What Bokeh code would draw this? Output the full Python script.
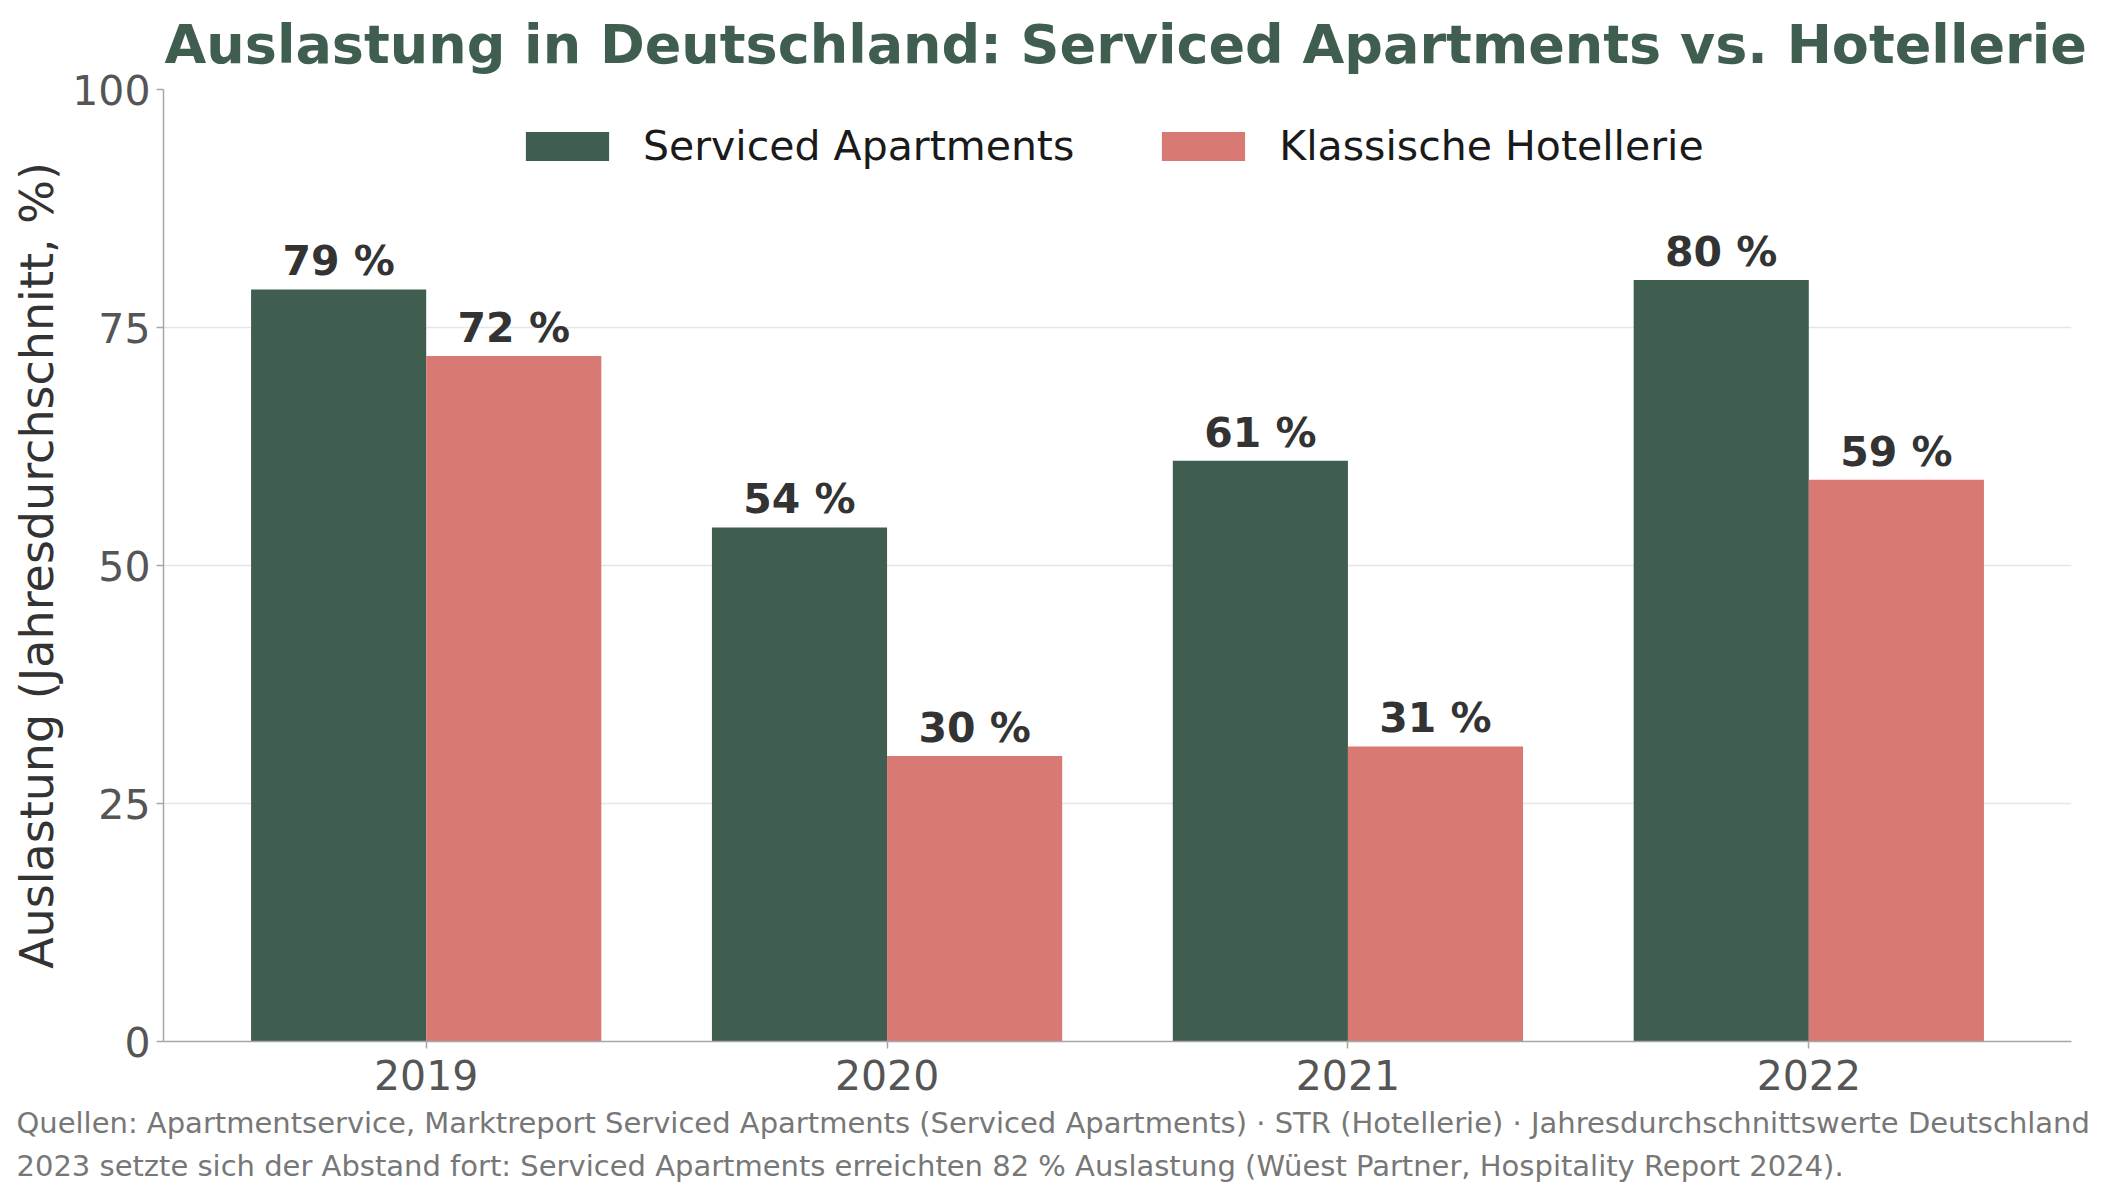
from bokeh.plotting import figure
from bokeh.models import (ColumnDataSource, FactorRange, Range1d, FixedTicker, Title,
                          Legend, LegendItem)
from bokeh.transform import dodge
from bokeh.core.properties import value
from bokeh.embed import file_html
from bokeh.resources import INLINE

# ---- data ----
years = ["2019", "2020", "2021", "2022"]
serviced_apartments = [79, 54, 61, 80]
klassische_hotellerie = [72, 30, 31, 59]
series_names = ["Serviced Apartments", "Klassische Hotellerie"]
y_ticks = [0, 25, 50, 75, 100]

title_text = "Auslastung in Deutschland: Serviced Apartments vs. Hotellerie"
y_label = "Auslastung (Jahresdurchschnitt, %)"
note_1 = ("Quellen: Apartmentservice, Marktreport Serviced Apartments (Serviced Apartments) "
          "\u00b7 STR (Hotellerie) \u00b7 Jahresdurchschnittswerte Deutschland")
note_2 = ("2023 setzte sich der Abstand fort: Serviced Apartments erreichten 82 % Auslastung "
          "(W\u00fcest Partner, Hospitality Report 2024).")

GREEN = "#3f5e50"
RED = "#d97974"
FONT = "DejaVu Sans"

src = ColumnDataSource(dict(
    year=years,
    sa=serviced_apartments,
    kh=klassische_hotellerie,
    sa_lbl=[f"{v} %" for v in serviced_apartments],
    kh_lbl=[f"{v} %" for v in klassische_hotellerie],
))

p = figure(
    width=2098, height=1191,
    x_range=FactorRange(factors=years, range_padding=0.035),
    y_range=Range1d(0, 100),
    output_backend="svg", toolbar_location=None,
    min_border_left=163, min_border_right=27, min_border_top=89, min_border_bottom=150,
)
p.outline_line_color = None
p.background_fill_color = "white"

bw = 0.38
r1 = p.vbar(x=dodge("year", -bw / 2, range=p.x_range), top="sa", width=bw, source=src,
            fill_color=GREEN, line_color=None)
r2 = p.vbar(x=dodge("year", bw / 2, range=p.x_range), top="kh", width=bw, source=src,
            fill_color=RED, line_color=None)

for col, lbl, off in (("sa", "sa_lbl", -bw / 2), ("kh", "kh_lbl", bw / 2)):
    p.text(x=dodge("year", off, range=p.x_range), y=col, text=lbl, source=src,
           text_align="center", text_baseline="bottom", y_offset=-4,
           text_font=value(FONT), text_font_size="41px", text_font_style="bold",
           text_color="#333333")

# axes
for ax in (p.xaxis[0], p.yaxis[0]):
    ax.axis_line_color = "#a6a6a6"
    ax.axis_line_width = 1.5
    ax.major_tick_line_color = "#a6a6a6"
    ax.major_tick_line_width = 1.5
    ax.major_tick_out = 7
    ax.major_tick_in = 0
    ax.minor_tick_line_color = None
    ax.major_label_text_font = FONT
    ax.major_label_text_font_size = "41px"
    ax.major_label_text_color = "#555555"

p.yaxis.ticker = FixedTicker(ticks=y_ticks)
p.yaxis.major_label_standoff = 6
p.yaxis.axis_label = y_label
p.yaxis.axis_label_text_font = FONT
p.yaxis.axis_label_text_font_size = "46px"
p.yaxis.axis_label_text_font_style = "normal"
p.yaxis.axis_label_text_color = "#333333"
p.yaxis.axis_label_standoff = 5
p.xaxis.major_label_standoff = 11

p.xgrid.grid_line_color = None
p.ygrid.grid_line_color = "#e6e6e6"
p.ygrid.grid_line_width = 1.5

# legend
legend = Legend(items=[LegendItem(label=series_names[0], renderers=[r1]),
                       LegendItem(label=series_names[1], renderers=[r2])],
                orientation="horizontal", location=(352, 871))
legend.glyph_width = 104
legend.glyph_height = 36
legend.label_standoff = 24
legend.spacing = 77
legend.padding = 0
legend.margin = 0
legend.border_line_color = None
legend.background_fill_alpha = 0
legend.label_text_font = FONT
legend.label_text_font_size = "41px"
legend.label_text_color = "#1a1a1a"
p.add_layout(legend, "center")

# title
p.title = Title(text=title_text, align="left", offset=1, standoff=23, vertical_align="top",
                text_font=FONT, text_font_size="54px", text_font_style="bold",
                text_color=GREEN)

# footnotes
for note, so in ((note_1, 22), (note_2, -8)):
    p.add_layout(Title(text=note, align="left", offset=-147, standoff=so,
                       text_font=FONT, text_font_size="29px", text_font_style="normal",
                       text_color="#777777"), "below")

open("out.html", "w").write(file_html(p, INLINE))
